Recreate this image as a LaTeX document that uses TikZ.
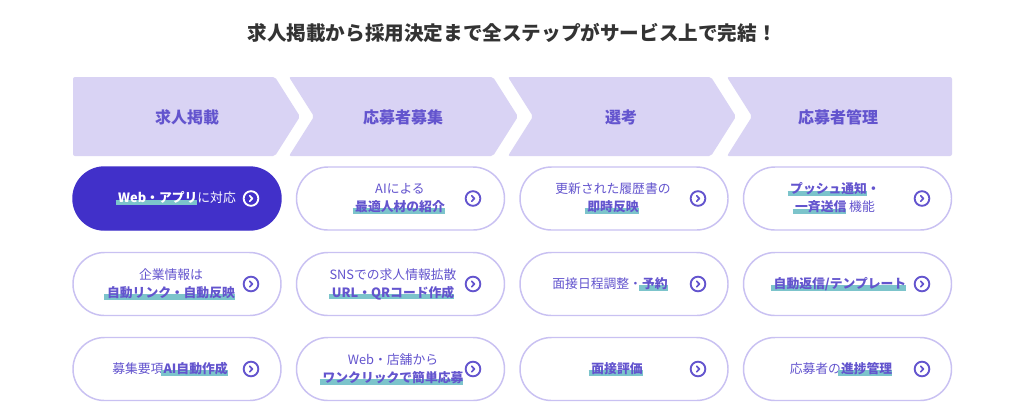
\documentclass[tikz,border=0pt]{standalone}
\usepackage{fontspec}
\setmainfont{Noto Sans CJK JP}
\usepackage{xcolor}
\usepackage{tikz}

\definecolor{stepfill}{RGB}{217,211,244}
\definecolor{purpletext}{RGB}{99,84,206}
\definecolor{pillline}{RGB}{201,193,242}
\definecolor{pillblue}{RGB}{65,48,201}
\definecolor{hlteal}{RGB}{124,196,203}
\definecolor{titlegray}{RGB}{51,51,51}

\newcommand\hlt[1]{\setbox0\hbox{\bfseries #1}\kern-2pt\rlap{\color{hlteal}\rule[-1.8pt]{\dimexpr\wd0+2pt\relax}{4.2pt}}\kern2pt\box0}

\tikzset{
	steplabel/.style={font=\bfseries\fontsize{12}{14}\selectfont, text=purpletext},
	pill/.style={draw=pillline, line width=1.1pt, fill=white, rounded corners=23.6pt, minimum width=156pt, minimum height=47.25pt, inner sep=0pt},
	pillsel/.style={pill, draw=pillblue, fill=pillblue},
	pilltext/.style={font=\fontsize{9.6}{13.5}\selectfont, text=purpletext, align=center, inner sep=0pt},
	goicon/.style={circle, draw=#1, line width=1.4pt, minimum size=11pt, inner sep=0pt, path picture={\draw[#1, line width=1.3pt, line cap=round, line join=round] ([shift={(-1.3,-2.8)}]path picture bounding box.center) -- ++(2.7,2.8) -- ++(-2.7,2.8);}},
	goicon/.default=purpletext
}

\begin{document}
\begin{tikzpicture}[x=0.75pt, y=-0.75pt]
	\useasboundingbox[fill=white] (0,0) rectangle (1024,419);

	\node[font=\bfseries\fontsize{14.7}{17}\selectfont, text=titlegray] (title) at (512,33) {求人掲載から採用決定まで全ステップがサービス上で完結！};

	\fill[stepfill, rounded corners=1.5pt] (73,77) -- (275,77) -- (300,116.5) -- (275,156) -- (73,156) -- cycle;
	\fill[stepfill, rounded corners=1.5pt] (289,77) -- (493,77) -- (518,116.5) -- (493,156) -- (289,156) -- (314,116.5) -- cycle;
	\fill[stepfill, rounded corners=1.5pt] (508,77) -- (711,77) -- (736,116.5) -- (711,156) -- (508,156) -- (533,116.5) -- cycle;
	\fill[stepfill, rounded corners=1.5pt] (727,77) -- (952,77) -- (952,156) -- (727,156) -- (752,116.5) -- cycle;

	\node[steplabel] (s1) at (187,117) {求人掲載};
	\node[steplabel] (s2) at (403,117) {応募者募集};
	\node[steplabel] (s3) at (621,117) {選考};
	\node[steplabel] (s4) at (838,117) {応募者管理};

	\node[pillsel] (p11) at (177,198.5) {};
	\node[pill] (p12) at (400.5,198.5) {};
	\node[pill] (p13) at (624,198.5) {};
	\node[pill] (p14) at (847.5,198.5) {};
	\node[pill] (p21) at (177,284) {};
	\node[pill] (p22) at (400.5,284) {};
	\node[pill] (p23) at (624,284) {};
	\node[pill] (p24) at (847.5,284) {};
	\node[pill] (p31) at (177,369) {};
	\node[pill] (p32) at (400.5,369) {};
	\node[pill] (p33) at (624,369) {};
	\node[pill] (p34) at (847.5,369) {};

	\node[pilltext, text=white] (t11) at (177,198.5) {\hlt{Web・アプリ}に対応};
	\node[pilltext] (t12) at (400,198.5) {AIによる\\\hlt{最適人材の紹介}};
	\node[pilltext] (t13) at (613,198.5) {更新された履歴書の\\\hlt{即時反映}};
	\node[pilltext] (t14) at (835,198.5) {\hlt{プッシュ通知}\textbf{・}\\\hlt{一斉送信}\ 機能};
	\node[pilltext] (t21) at (171,284) {企業情報は\\\hlt{自動リンク・自動反映}};
	\node[pilltext] (t22) at (393,284) {SNSでの求人情報拡散\\\hlt{URL・QRコード作成}};
	\node[pilltext] (t23) at (610,284) {面接日程調整・\hlt{予約}};
	\node[pilltext] (t24) at (840,284) {\hlt{自動返信/テンプレート}};
	\node[pilltext] (t31) at (170,369) {募集要項\hlt{AI自動作成}};
	\node[pilltext] (t32) at (393,369) {Web・店舗から\\\hlt{ワンクリックで簡単応募}};
	\node[pilltext] (t33) at (617,369) {\hlt{面接評価}};
	\node[pilltext] (t34) at (841,369) {応募者の\hlt{進捗管理}};

	\node[goicon=white] (i11) at (251,198.5) {};
	\node[goicon] (i12) at (473,198.5) {};
	\node[goicon] (i13) at (698,198.5) {};
	\node[goicon] (i14) at (922,198.5) {};
	\node[goicon] (i21) at (251,284) {};
	\node[goicon] (i22) at (473,284) {};
	\node[goicon] (i23) at (698,284) {};
	\node[goicon] (i24) at (922,284) {};
	\node[goicon] (i31) at (251,369) {};
	\node[goicon] (i32) at (473,369) {};
	\node[goicon] (i33) at (698,369) {};
	\node[goicon] (i34) at (922,369) {};
\end{tikzpicture}
\end{document}
